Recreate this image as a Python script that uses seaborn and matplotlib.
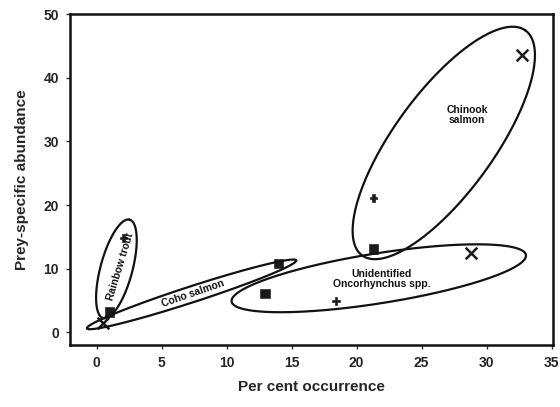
import numpy as np
import pandas as pd
import matplotlib
matplotlib.use("Agg")
import matplotlib.pyplot as plt
import seaborn as sns

# data
occurrence = [32.7, 28.8, 0.5, 21.3, 18.4, 2.05, 21.3, 14.0, 12.95, 1.0]
abundance = [43.5, 12.5, 1.5, 21.1, 4.9, 14.8, 13.1, 10.8, 6.1, 3.2]
group = ["x", "x", "x", "plus", "plus", "plus", "sq", "sq", "sq", "sq"]

x_ticks = [0, 5, 10, 15, 20, 25, 30, 35]
y_ticks = [0, 10, 20, 30, 40, 50]

# ellipse outlines: name, centre (data), semi-axes (pixels), angle (deg, screen)
ell_names = ["Chinook salmon", "Unidentified Oncorhynchus spp.", "Coho salmon", "Rainbow trout"]
ell_cx = [26.7, 21.7, 7.3, 1.52]
ell_cy = [29.75, 8.5, 5.97, 9.97]
ell_a = [139, 149, 110, 51]
ell_b = [50, 25, 8, 16]
ell_ang = [54, 9, 18, 75]

labels = ["Chinook\nsalmon", "Unidentified\nOncorhynchus spp.", "Coho salmon", "Rainbow trout"]
lab_x = [28.5, 21.9, 7.4, 1.8]
lab_y = [34.1, 8.4, 6.1, 10.3]
lab_rot = [0, 0, 19, 73]

sns.set_style("ticks")
plt.rcParams['font.family'] = ['Liberation Sans', 'DejaVu Sans']

df = pd.DataFrame({"occ": occurrence, "abd": abundance, "grp": group})

fig = plt.figure(figsize=(5.6, 4.07), dpi=100)
ax = fig.add_axes([0.125, 0.152, 0.8625, 0.8136])
xlim = (-2.05, 35.1)
ylim = (-2.0, 50.0)

sub_x = df[df.grp == "x"]
sub_o = df[df.grp != "x"]
sns.scatterplot(data=sub_o, x="occ", y="abd", style="grp",
                markers={"plus": "P", "sq": "s"},
                color="#1a1a1a", edgecolor="#1a1a1a", legend=False, ax=ax,
                size="grp", sizes={"plus": 30, "sq": 45})
sns.scatterplot(data=sub_x, x="occ", y="abd", marker="x", s=70,
                color="#1a1a1a", linewidth=1.8, legend=False, ax=ax)
ax.set_xlim(*xlim)
ax.set_ylim(*ylim)

fig.canvas.draw()
bb = ax.get_window_extent()
sx = bb.width / (xlim[1] - xlim[0])
sy = bb.height / (ylim[1] - ylim[0])
t = np.linspace(0, 2 * np.pi, 300)
for cx, cy, a, b, ang in zip(ell_cx, ell_cy, ell_a, ell_b, ell_ang):
    th = np.radians(ang)
    px = a * np.cos(th) * np.cos(t) - b * np.sin(th) * np.sin(t)
    py = a * np.sin(th) * np.cos(t) + b * np.cos(th) * np.sin(t)
    ax.plot(cx + px / sx, cy + py / sy, color="#111111", lw=1.6)

for s, x, y, r in zip(labels, lab_x, lab_y, lab_rot):
    ax.text(x, y, s, ha="center", va="center", rotation=r, fontsize=7.5,
            color="#111111", linespacing=1.0, fontweight="semibold")

ax.set_xticks(x_ticks)
ax.set_yticks(y_ticks)
ax.set_xticklabels([str(v) for v in x_ticks], fontsize=10, fontweight="bold")
ax.set_yticklabels([str(v) for v in y_ticks], fontsize=10, fontweight="bold")
ax.tick_params(length=3, width=1, color="#333333", pad=5)
ax.set_xlabel("Per cent occurrence", fontsize=11, fontweight="bold", labelpad=7)
ax.set_ylabel("Prey-specific abundance", fontsize=11, fontweight="bold", labelpad=10)
for sp in ax.spines.values():
    sp.set_visible(True)
    sp.set_linewidth(1.8)
    sp.set_color("#111111")

fig.savefig("out.png", dpi=100)
